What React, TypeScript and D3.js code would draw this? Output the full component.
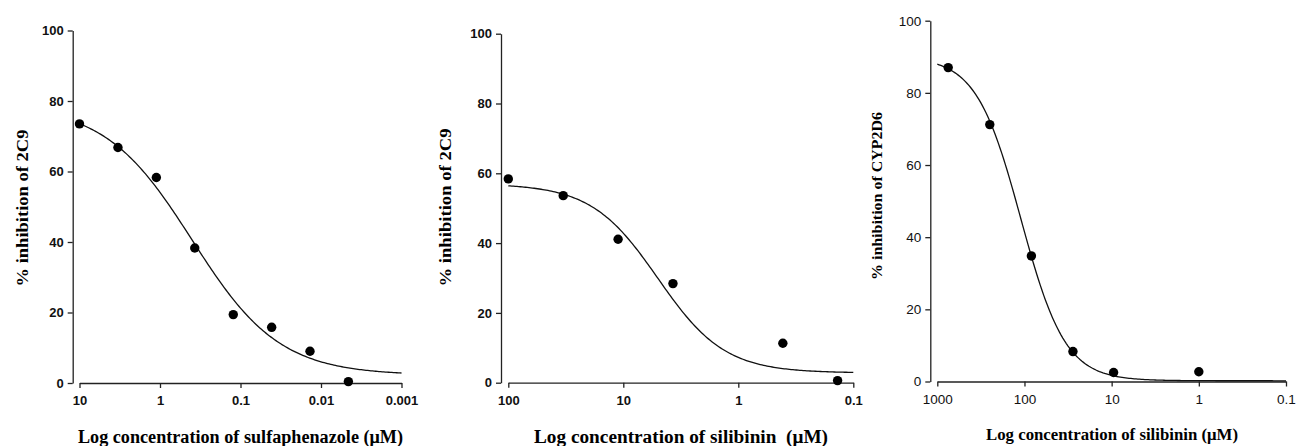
import React, { useEffect, useRef } from "react";
import * as d3 from "d3";

// panel 1: sulfaphenazole vs 2C9
const sulfaConc = [10, 3.33, 1.11, 0.37, 0.123, 0.041, 0.0137, 0.00457];
const sulfaInhib = [73.5, 66.8, 58.3, 38.3, 19.4, 15.8, 9.0, 0.4];
const sulfaTicks = [10, 1, 0.1, 0.01, 0.001];
const sulfaFit = { top: 79, bottom: 2.2, ic50: 0.4, hill: 0.8 };

// panel 2: silibinin vs 2C9
const sili2C9Conc = [100, 33.3, 11.1, 3.7, 0.41, 0.137];
const sili2C9Inhib = [58.4, 53.6, 41.1, 28.4, 11.3, 0.6];
const sili2C9Ticks = [100, 10, 1, 0.1];
const sili2C9Fit = { top: 57, bottom: 2.8, ic50: 5, hill: 1.5 };

// panel 3: silibinin vs CYP2D6
const sili2D6Conc = [750, 250, 83.3, 27.8, 9.5, 1.0];
const sili2D6Inhib = [87.0, 71.2, 34.8, 8.3, 2.5, 2.7];
const sili2D6Ticks = [1000, 100, 10, 1, 0.1];
const sili2D6Fit = { top: 90, bottom: 0.2, ic50: 110, hill: 1.7 };

const yTicks = [0, 20, 40, 60, 80, 100];

const fmt = (v) => (v >= 1 ? String(v) : String(+v.toPrecision(1)));

const panels = [
  {
    conc: sulfaConc, inhib: sulfaInhib, ticks: sulfaTicks, fit: sulfaFit,
    yAxisX: 72.7, xRange: [79.5, 401.5], yRange: [383, 30.5],
    boldTicks: true, tickSize: 13,
    yLabel: "% inhibition of 2C9", yLabelPos: [21.5, 208], yLabelSize: 17.5, yLabelLen: 157,
    xLabel: "Log concentration of sulfaphenazole (\u03bcM)", xLabelPos: [240.5, 437], xLabelSize: 18, xLabelLen: 325,
  },
  {
    conc: sili2C9Conc, inhib: sili2C9Inhib, ticks: sili2C9Ticks, fit: sili2C9Fit,
    yAxisX: 501, xRange: [508.3, 853.3], yRange: [382.7, 33.7],
    boldTicks: true, tickSize: 13,
    yLabel: "% inhibition of 2C9", yLabelPos: [445, 207.5], yLabelSize: 17.5, yLabelLen: 158,
    xLabel: "Log concentration of silibinin  (\u03bcM)", xLabelPos: [681, 437], xLabelSize: 18, xLabelLen: 294,
  },
  {
    conc: sili2D6Conc, inhib: sili2D6Inhib, ticks: sili2D6Ticks, fit: sili2D6Fit,
    yAxisX: 930.3, xRange: [937.3, 1286], yRange: [381.5, 20.7],
    boldTicks: false, tickSize: 13.5,
    yLabel: "% inhibition of CYP2D6", yLabelPos: [876.5, 196], yLabelSize: 15.5, yLabelLen: 168,
    xLabel: "Log concentration of silibinin (\u03bcM)", xLabelPos: [1112, 434], xLabelSize: 16, xLabelLen: 252,
  },
];

export default function App() {
  const ref = useRef(null);

  useEffect(() => {
    const svg = d3.select(ref.current);
    svg.selectAll("*").remove();

    panels.forEach((p) => {
      const x = d3.scaleLog().domain([p.ticks[0], p.ticks[p.ticks.length - 1]]).range(p.xRange);
      const y = d3.scaleLinear().domain([0, 100]).range(p.yRange);
      const g = svg.append("g");
      const tickFont = "Arial, 'Liberation Sans', sans-serif";
      const weight = p.boldTicks ? "bold" : "normal";

      // y axis
      const ya = g.append("g")
        .attr("transform", `translate(${p.yAxisX},0)`)
        .call(d3.axisLeft(y).tickValues(yTicks).tickSize(5).tickPadding(4).tickSizeOuter(0));
      ya.select(".domain").attr("stroke", "#222").attr("stroke-width", 1.3);
      ya.selectAll(".tick line").attr("stroke", "#222").attr("stroke-width", 1.3);
      ya.selectAll("text")
        .attr("font-family", tickFont).attr("font-size", p.tickSize)
        .attr("font-weight", weight).attr("fill", "#111");

      // x axis
      const xa = g.append("g")
        .attr("transform", `translate(0,${p.yRange[0]})`)
        .call(d3.axisBottom(x).tickValues(p.ticks).tickFormat(fmt).tickSize(5).tickPadding(8).tickSizeOuter(0));
      xa.select(".domain").attr("stroke", "#222").attr("stroke-width", 1.3);
      xa.selectAll(".tick line").attr("stroke", "#222").attr("stroke-width", 1.3);
      xa.selectAll("text")
        .attr("font-family", tickFont).attr("font-size", p.tickSize)
        .attr("font-weight", weight).attr("fill", "#111");

      // fitted curve (four-parameter logistic)
      const f = p.fit;
      const lo = Math.log10(p.ticks[p.ticks.length - 1]);
      const hi = Math.log10(p.ticks[0]);
      const pts = d3.range(0, 201).map((i) => {
        const c = Math.pow(10, lo + ((hi - lo) * i) / 200);
        const v = f.bottom + (f.top - f.bottom) / (1 + Math.pow(f.ic50 / c, f.hill));
        return [c, v];
      });
      g.append("path")
        .attr("d", d3.line().x((d) => x(d[0])).y((d) => y(d[1]))(pts))
        .attr("fill", "none").attr("stroke", "#111").attr("stroke-width", 1.3);

      // points
      g.selectAll("circle.pt")
        .data(p.conc.map((c, i) => [c, p.inhib[i]]))
        .enter().append("circle")
        .attr("class", "pt")
        .attr("cx", (d) => x(d[0])).attr("cy", (d) => y(d[1]))
        .attr("r", 4.7).attr("fill", "#000");

      // labels
      g.append("text")
        .attr("transform", `translate(${p.yLabelPos[0]},${p.yLabelPos[1]}) rotate(-90)`)
        .attr("text-anchor", "middle").attr("dominant-baseline", "central")
        .attr("font-family", "'Times New Roman', 'Liberation Serif', serif")
        .attr("font-weight", "bold").attr("font-size", p.yLabelSize)
        .attr("textLength", p.yLabelLen).attr("lengthAdjust", "spacingAndGlyphs")
        .text(p.yLabel);
      g.append("text")
        .attr("x", p.xLabelPos[0]).attr("y", p.xLabelPos[1])
        .attr("text-anchor", "middle").attr("dominant-baseline", "central")
        .attr("font-family", "'Times New Roman', 'Liberation Serif', serif")
        .attr("font-weight", "bold").attr("font-size", p.xLabelSize)
        .attr("textLength", p.xLabelLen).attr("lengthAdjust", "spacingAndGlyphs")
        .style("white-space", "pre")
        .text(p.xLabel);
    });
  });

  return (
    <svg
      ref={ref}
      width={1296}
      height={446}
      style={{ position: "absolute", left: 0, top: 0, background: "#fff" }}
    />
  );
}
